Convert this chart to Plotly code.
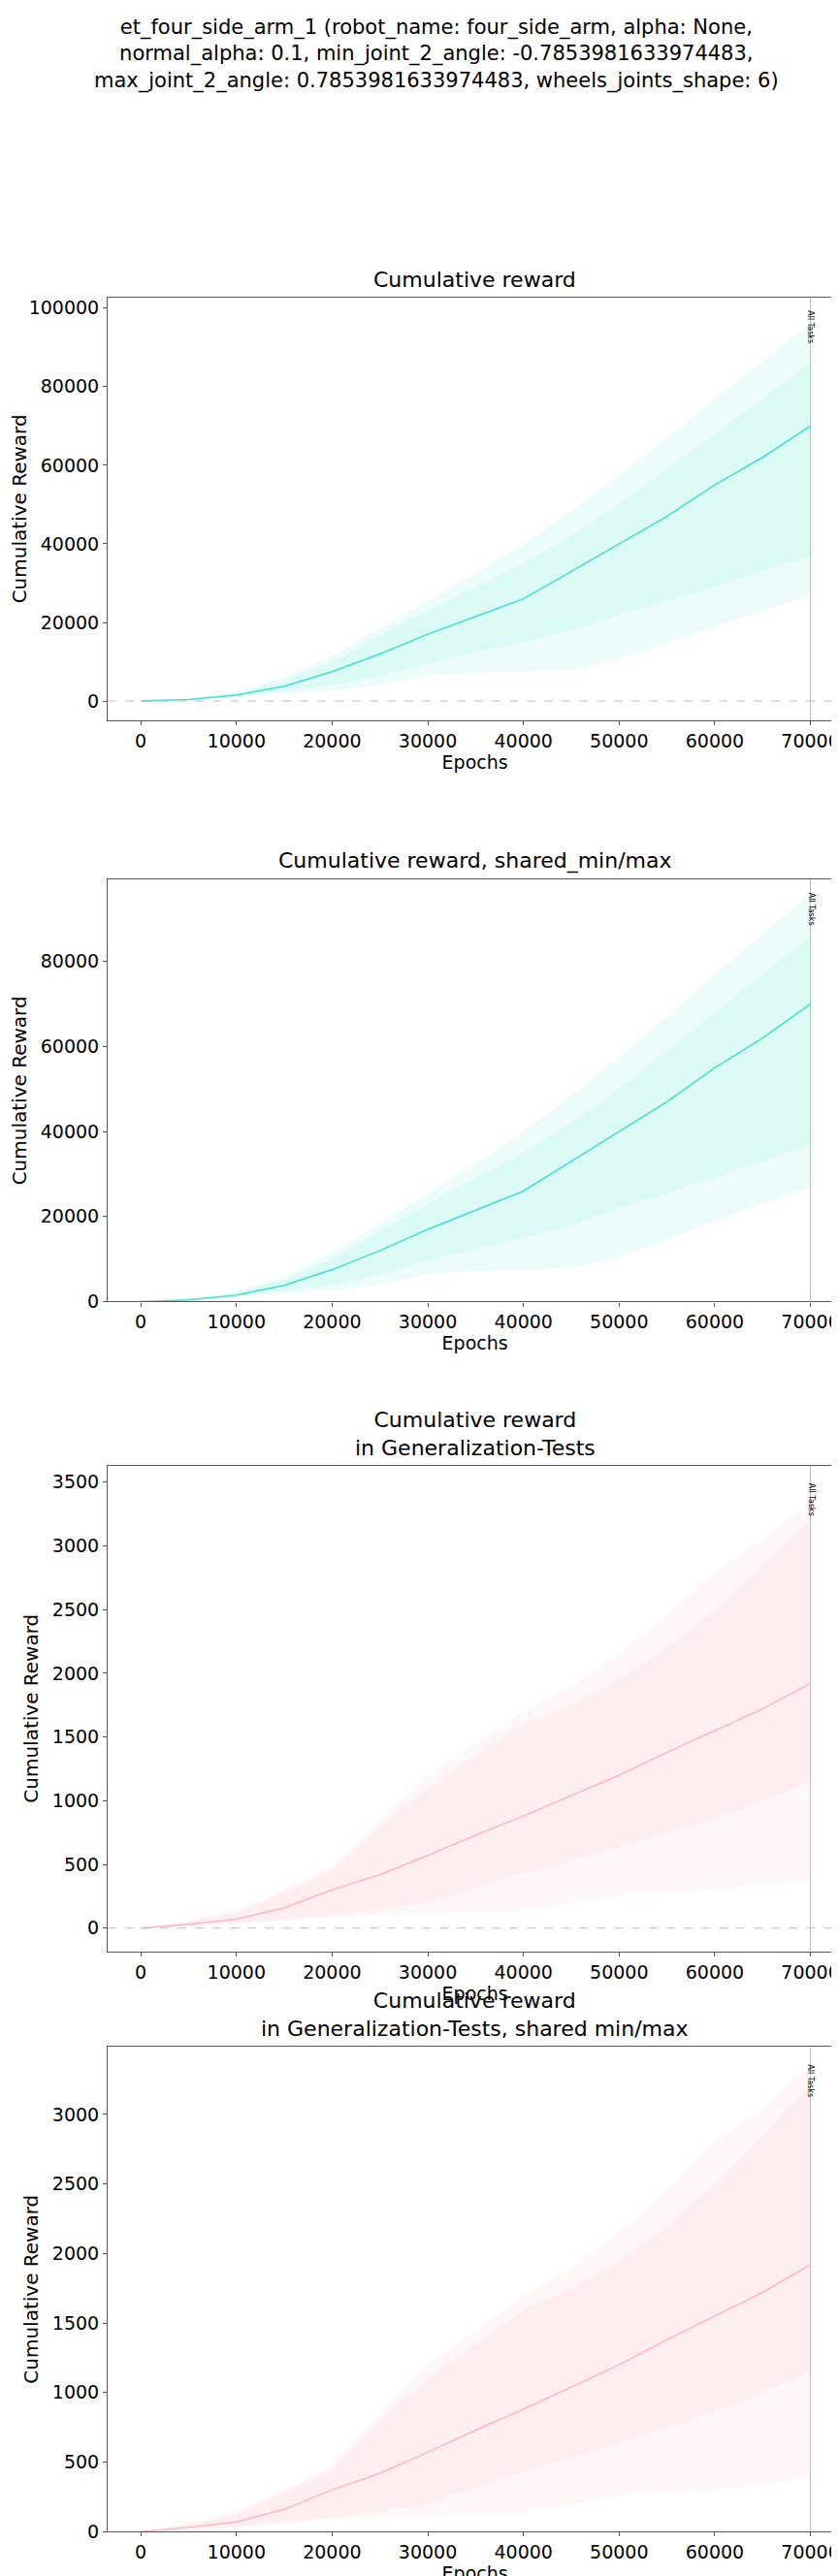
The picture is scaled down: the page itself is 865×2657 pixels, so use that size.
import plotly.graph_objects as go

H, W = 2657, 865
epochs = [0, 5000, 10000, 15000, 20000, 25000, 30000, 35000, 40000, 45000, 50000, 55000, 60000, 65000, 70000]

# Training cumulative reward
tr_mean = [0, 400, 1500, 3800, 7500, 12000, 17000, 21500, 26000, 33000, 40000, 47000, 55000, 62000, 70000]
tr_in_hi = [0, 500, 2000, 5200, 10000, 16500, 23000, 29000, 35000, 42000, 50000, 59000, 68000, 77000, 86000]
tr_in_lo = [0, 300, 1200, 2500, 4000, 6500, 9500, 12500, 15000, 18000, 22000, 25500, 29000, 33000, 37000]
tr_out_hi = [0, 600, 2300, 6000, 11500, 18500, 25500, 32500, 40000, 48500, 57500, 67000, 77000, 86500, 96000]
tr_out_lo = [0, 250, 1000, 2000, 2600, 4000, 6500, 7200, 7500, 8000, 10500, 14500, 19000, 23000, 27000]

# Generalization cumulative reward
ge_mean = [0, 30, 70, 160, 300, 420, 570, 730, 880, 1040, 1200, 1380, 1550, 1720, 1920]
ge_in_hi = [0, 50, 120, 280, 450, 800, 1100, 1350, 1600, 1750, 1950, 2200, 2500, 2850, 3200]
ge_in_lo = [0, 15, 40, 70, 100, 150, 200, 320, 430, 530, 640, 750, 860, 1000, 1150]
ge_out_hi = [0, 60, 150, 300, 480, 850, 1200, 1450, 1700, 1900, 2150, 2450, 2800, 3050, 3350]
ge_out_lo = [0, 10, 30, 60, 90, 100, 110, 125, 140, 190, 260, 280, 300, 340, 390]

titles = ["Cumulative reward", "Cumulative reward, shared_min/max",
          "Cumulative reward<br>in Generalization-Tests",
          "Cumulative reward<br>in Generalization-Tests, shared min/max"]
panels_px = [(300, 738), (903, 1340), (1510, 2013), (2112, 2614)]
yranges = [(-4900, 102700), (0, 99300), (-182, 3629), (0, 3486)]
ytick_sets = [[0, 20000, 40000, 60000, 80000, 100000], [0, 20000, 40000, 60000, 80000],
              [0, 500, 1000, 1500, 2000, 2500, 3000, 3500], [0, 500, 1000, 1500, 2000, 2500, 3000]]
xticks = list(range(0, 70001, 10000))

fig = go.Figure()
font = "DejaVu Sans"

def add_band(i, hi, lo, color):
    ax = "" if i == 0 else str(i + 1)
    fig.add_trace(go.Scatter(x=epochs, y=lo, mode="lines", line=dict(width=0), showlegend=False,
                             hoverinfo="skip", xaxis="x" + ax, yaxis="y" + ax))
    fig.add_trace(go.Scatter(x=epochs, y=hi, mode="lines", line=dict(width=0), fill="tonexty",
                             fillcolor=color, showlegend=False, hoverinfo="skip",
                             xaxis="x" + ax, yaxis="y" + ax))

for i in range(4):
    ax = "" if i == 0 else str(i + 1)
    if i < 2:
        d = (tr_mean, tr_in_hi, tr_in_lo, tr_out_hi, tr_out_lo)
        lc, fc = "#40E0D0", "rgba(64,224,208,0.1)"
    else:
        d = (ge_mean, ge_in_hi, ge_in_lo, ge_out_hi, ge_out_lo)
        lc, fc = "#FFB6C1", "rgba(255,182,193,0.12)"
    mean, ihi, ilo, ohi, olo = d
    add_band(i, ohi, olo, fc)
    add_band(i, ihi, ilo, fc)
    fig.add_trace(go.Scatter(x=epochs, y=mean, mode="lines", line=dict(color=lc, width=1.5),
                             showlegend=False, xaxis="x" + ax, yaxis="y" + ax))
    top, bot = panels_px[i]
    dom = [1 - bot / H, 1 - top / H]
    axis_common = dict(showline=True, mirror=True, linecolor="#555", linewidth=1.2,
                       ticks="outside", ticklen=4, tickcolor="#555", showgrid=False, zeroline=False,
                       tickfont=dict(size=19, family=font, color="black"))
    fig.layout["xaxis" + ax] = dict(axis_common, domain=[86 / W, 860 / W], range=[-3450, 73300],
                                    anchor="y" + ax, tickvals=xticks, ticktext=[str(v) for v in xticks],
                                    title=dict(text="Epochs", font=dict(size=19, family=font, color="black"), standoff=0))
    fig.layout["yaxis" + ax] = dict(axis_common, domain=dom, range=list(yranges[i]), anchor="x" + ax,
                                    tickvals=ytick_sets[i], ticktext=[str(v) for v in ytick_sets[i]],
                                    title=dict(text="Cumulative Reward", font=dict(size=20, family=font, color="black"), standoff=8))
    xr, yr = "x" + ax, "y" + ax
    fig.add_shape(type="line", xref=xr, yref=yr + " domain", x0=70000, x1=70000, y0=0, y1=1,
                  line=dict(color="#bbb", width=1))
    if i in (0, 2):
        fig.add_shape(type="line", xref=xr + " domain", yref=yr, x0=0, x1=1, y0=0, y1=0,
                      line=dict(color="#bbb", width=1, dash="dash"))
    fig.add_annotation(x=70000, y=0.93, xref=xr, yref=yr + " domain", text="All Tasks", textangle=90,
                       showarrow=False, xanchor="left", yanchor="middle", xshift=-6,
                       font=dict(size=8, family=font, color="black"))
    fig.add_annotation(x=0.5 * (86 + 860) / W, y=1 - (top - 4) / H, xref="paper", yref="paper",
                       text=titles[i], showarrow=False, yanchor="bottom",
                       font=dict(size=22, family=font, color="black"))

fig.add_annotation(x=0.5, y=1 - 6 / H, xref="paper", yref="paper", yanchor="top", xanchor="center",
                   text="et_four_side_arm_1 (robot_name: four_side_arm, alpha: None,<br>normal_alpha: 0.1, min_joint_2_angle: -0.7853981633974483,<br>max_joint_2_angle: 0.7853981633974483, wheels_joints_shape: 6)",
                   showarrow=False, font=dict(size=21, family=font, color="black"))

fig.update_layout(width=W, height=H, margin=dict(l=0, r=0, t=0, b=0),
                  plot_bgcolor="white", paper_bgcolor="white", showlegend=False)
fig.write_html("out.html")
